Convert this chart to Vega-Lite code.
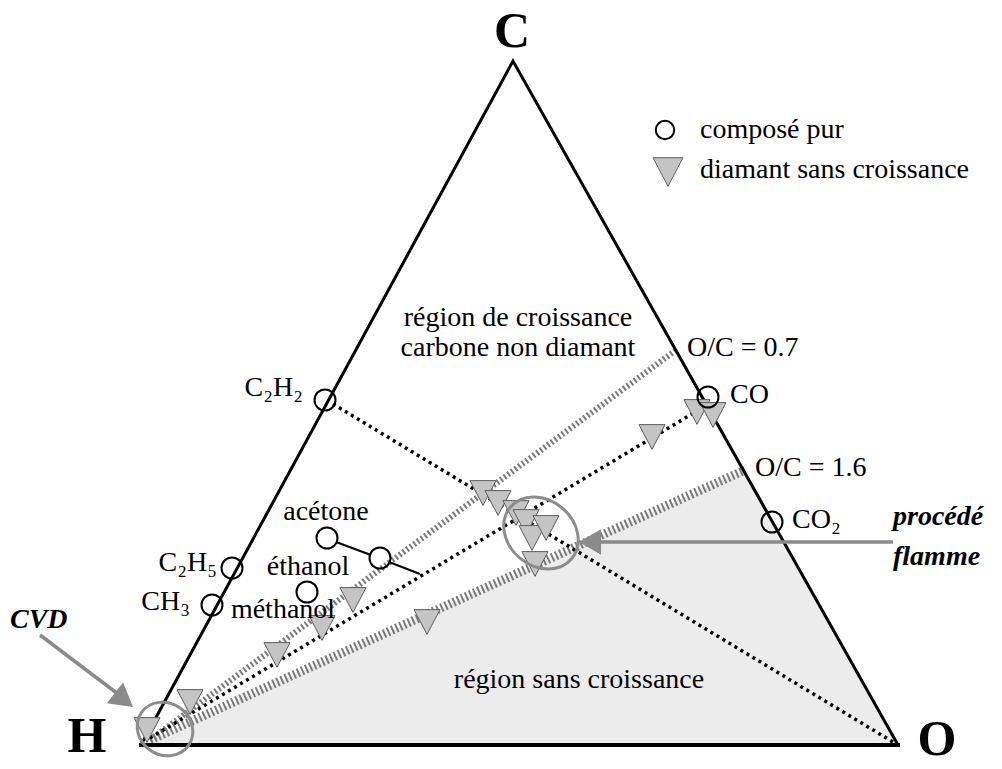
{
  "$schema": "https://vega.github.io/schema/vega-lite/v6.json",
  "width": 1002,
  "height": 769,
  "padding": 0,
  "autosize": {"type": "none"},
  "background": "white",
  "config": {"view": {"stroke": null}},
  "datasets": {
    "region": [{"x": 141, "y": 745}, {"x": 745, "y": 470}, {"x": 898, "y": 745}],
    "sides": [{"i": 1, "x": 141, "y": 745}, {"i": 2, "x": 513, "y": 61}, {"i": 3, "x": 898, "y": 745}],
    "base": [{"x": 139, "y": 745, "x2": 900, "y2": 745}],
    "hatch07": [{"x": 150, "y": 740, "x2": 676, "y2": 350}],
    "hatch16": [{"x": 150, "y": 740, "x2": 745, "y2": 470}],
    "dotted": [
      {"x": 333, "y": 404, "x2": 893, "y2": 742},
      {"x": 150, "y": 738, "x2": 702, "y2": 408}
    ],
    "solid": [
      {"x": 336, "y": 542, "x2": 371, "y2": 555},
      {"x": 389, "y": 562, "x2": 420, "y2": 574}
    ],
    "circles": [
      {"name": "C2H2", "x": 325, "y": 400},
      {"name": "C2H5", "x": 232, "y": 568},
      {"name": "CH3", "x": 212, "y": 605},
      {"name": "acetone", "x": 327, "y": 538},
      {"name": "ethanol", "x": 380, "y": 558},
      {"name": "methanol", "x": 307, "y": 592},
      {"name": "CO", "x": 708, "y": 397},
      {"name": "CO2", "x": 772, "y": 522}
    ],
    "legendCircle": [{"x": 665, "y": 130}],
    "triangles": [
      {"x": 483, "y": 493}, {"x": 498, "y": 503}, {"x": 516, "y": 513},
      {"x": 526, "y": 522}, {"x": 532, "y": 538}, {"x": 546, "y": 528},
      {"x": 535, "y": 564}, {"x": 652, "y": 437}, {"x": 697, "y": 412},
      {"x": 713, "y": 415}, {"x": 353, "y": 600}, {"x": 322, "y": 628},
      {"x": 277, "y": 655}, {"x": 427, "y": 622}, {"x": 190, "y": 702},
      {"x": 147, "y": 730}
    ],
    "legendTriangle": [{"x": 668, "y": 172}],
    "ellipseBig": [{"x": 541, "y": 533}],
    "ellipseSmall": [{"x": 165, "y": 729}],
    "arrowLines": [
      {"x": 600, "y": 542, "x2": 893, "y2": 542},
      {"x": 40, "y": 635, "x2": 118, "y2": 694}
    ],
    "headLeft": [{"x": 590, "y": 542}],
    "headCVD": [{"x": 124, "y": 700}],
    "vertices": [
      {"t": "C", "x": 512, "y": 32},
      {"t": "H", "x": 87, "y": 737},
      {"t": "O", "x": 937, "y": 740}
    ],
    "labelsRight": [
      {"t": "C₂H₂", "x": 303, "y": 388},
      {"t": "C₂H₅", "x": 217, "y": 563},
      {"t": "CH₃", "x": 190, "y": 602}
    ],
    "labelsCenter": [
      {"t": "acétone", "x": 326, "y": 512},
      {"t": "éthanol", "x": 308, "y": 567},
      {"t": "méthanol", "x": 283, "y": 610},
      {"t": "région de croissance", "x": 518, "y": 318},
      {"t": "carbone non diamant", "x": 518, "y": 348},
      {"t": "région sans croissance", "x": 579, "y": 680}
    ],
    "labelsLeft": [
      {"t": "CO", "x": 730, "y": 395},
      {"t": "CO₂", "x": 792, "y": 520},
      {"t": "O/C = 0.7", "x": 687, "y": 348},
      {"t": "O/C = 1.6", "x": 755, "y": 468},
      {"t": "composé pur", "x": 700, "y": 130},
      {"t": "diamant sans croissance", "x": 700, "y": 170}
    ],
    "labelsItalic": [
      {"t": "procédé", "x": 893, "y": 517},
      {"t": "flamme", "x": 893, "y": 557},
      {"t": "CVD", "x": 10, "y": 620}
    ]
  },
  "encoding": {
    "x": {"field": "x", "type": "quantitative", "scale": {"domain": [0, 1002], "nice": false, "zero": false}, "axis": null},
    "y": {"field": "y", "type": "quantitative", "scale": {"domain": [0, 769], "nice": false, "zero": false, "reverse": true}, "axis": null}
  },
  "layer": [
    {
      "data": {"name": "region"},
      "mark": {"type": "area", "color": "#ececec", "interpolate": "linear"},
      "encoding": {"y2": {"datum": 745}}
    },
    {
      "data": {"name": "hatch07"},
      "mark": {"type": "rule", "color": "#7a7a7a", "strokeWidth": 6, "strokeDash": [2, 2.5]},
      "encoding": {"x2": {"field": "x2"}, "y2": {"field": "y2"}}
    },
    {
      "data": {"name": "hatch16"},
      "mark": {"type": "rule", "color": "#7a7a7a", "strokeWidth": 9, "strokeDash": [2, 2.5]},
      "encoding": {"x2": {"field": "x2"}, "y2": {"field": "y2"}}
    },
    {
      "data": {"name": "dotted"},
      "mark": {"type": "rule", "color": "black", "strokeWidth": 3.5, "strokeDash": [3, 4]},
      "encoding": {"x2": {"field": "x2"}, "y2": {"field": "y2"}}
    },
    {
      "data": {"name": "solid"},
      "mark": {"type": "rule", "color": "black", "strokeWidth": 2},
      "encoding": {"x2": {"field": "x2"}, "y2": {"field": "y2"}}
    },
    {
      "data": {"name": "sides"},
      "mark": {"type": "line", "color": "black", "strokeWidth": 3, "strokeJoin": "miter"},
      "encoding": {"order": {"field": "i"}}
    },
    {
      "data": {"name": "base"},
      "mark": {"type": "rule", "color": "black", "strokeWidth": 4},
      "encoding": {"x2": {"field": "x2"}, "y2": {"field": "y2"}}
    },
    {
      "data": {"name": "arrowLines"},
      "mark": {"type": "rule", "color": "#8a8a8a", "strokeWidth": 3.5},
      "encoding": {"x2": {"field": "x2"}, "y2": {"field": "y2"}}
    },
    {
      "data": {"name": "headLeft"},
      "mark": {"type": "point", "shape": "triangle-left", "size": 650, "filled": true, "color": "#8a8a8a", "opacity": 1},
      "encoding": {}
    },
    {
      "data": {"name": "headCVD"},
      "mark": {"type": "point", "shape": "triangle-right", "size": 700, "filled": true, "color": "#8a8a8a", "opacity": 1, "angle": 38},
      "encoding": {}
    },
    {
      "data": {"name": "triangles"},
      "mark": {"type": "point", "shape": "M-1,-0.95L1,-0.95L0,0.95Z", "size": 680, "filled": true, "fill": "#c4c4c4", "stroke": "#5e5e5e", "strokeWidth": 1, "opacity": 1},
      "encoding": {}
    },
    {
      "data": {"name": "legendTriangle"},
      "mark": {"type": "point", "shape": "M-1,-0.95L1,-0.95L0,0.95Z", "size": 900, "filled": true, "fill": "#c4c4c4", "stroke": "#5e5e5e", "strokeWidth": 1, "opacity": 1},
      "encoding": {}
    },
    {
      "data": {"name": "circles"},
      "mark": {"type": "point", "shape": "circle", "size": 441, "filled": false, "stroke": "black", "strokeWidth": 2, "opacity": 1},
      "encoding": {}
    },
    {
      "data": {"name": "legendCircle"},
      "mark": {"type": "point", "shape": "circle", "size": 340, "filled": false, "stroke": "black", "strokeWidth": 2, "opacity": 1},
      "encoding": {}
    },
    {
      "data": {"name": "ellipseBig"},
      "mark": {"type": "point", "shape": "M1,0C1,0.453 0.552,0.82 0,0.82C-0.552,0.82 -1,0.453 -1,0C-1,-0.453 -0.552,-0.82 0,-0.82C0.552,-0.82 1,-0.453 1,0Z", "size": 6400, "filled": false, "stroke": "#8c8c8c", "strokeWidth": 3, "opacity": 1, "angle": 40},
      "encoding": {}
    },
    {
      "data": {"name": "ellipseSmall"},
      "mark": {"type": "point", "shape": "M1,0C1,0.497 0.552,0.9 0,0.9C-0.552,0.9 -1,0.497 -1,0C-1,-0.497 -0.552,-0.9 0,-0.9C0.552,-0.9 1,-0.497 1,0Z", "size": 3300, "filled": false, "stroke": "#8c8c8c", "strokeWidth": 3, "opacity": 1, "angle": 35},
      "encoding": {}
    },
    {
      "data": {"name": "vertices"},
      "mark": {"type": "text", "font": "Liberation Serif", "fontSize": 50, "fontWeight": "bold", "align": "center", "baseline": "middle", "color": "black"},
      "encoding": {"text": {"field": "t"}}
    },
    {
      "data": {"name": "labelsRight"},
      "mark": {"type": "text", "font": "Liberation Serif", "fontSize": 28, "align": "right", "baseline": "middle", "color": "black"},
      "encoding": {"text": {"field": "t"}}
    },
    {
      "data": {"name": "labelsCenter"},
      "mark": {"type": "text", "font": "Liberation Serif", "fontSize": 28, "align": "center", "baseline": "middle", "color": "black"},
      "encoding": {"text": {"field": "t"}}
    },
    {
      "data": {"name": "labelsLeft"},
      "mark": {"type": "text", "font": "Liberation Serif", "fontSize": 28, "align": "left", "baseline": "middle", "color": "black"},
      "encoding": {"text": {"field": "t"}}
    },
    {
      "data": {"name": "labelsItalic"},
      "mark": {"type": "text", "font": "Liberation Serif", "fontSize": 28, "fontWeight": "bold", "fontStyle": "italic", "align": "left", "baseline": "middle", "color": "black"},
      "encoding": {"text": {"field": "t"}}
    }
  ]
}
